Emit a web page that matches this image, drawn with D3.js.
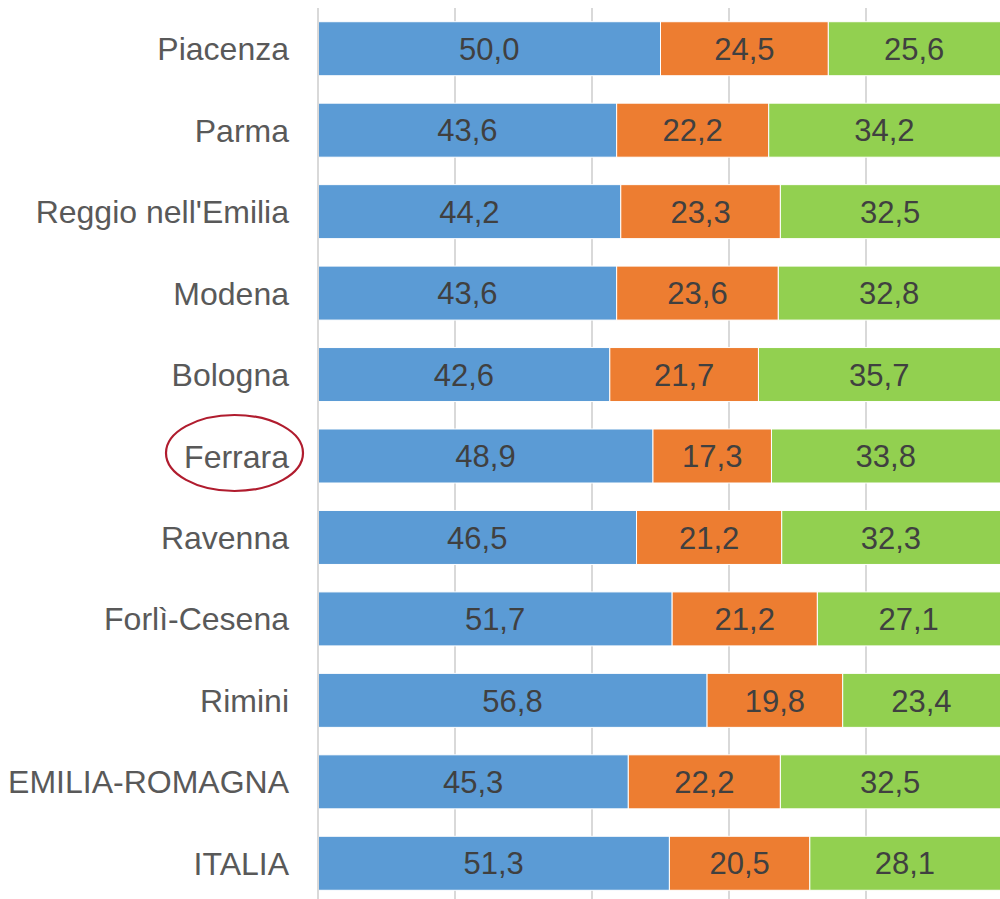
<!DOCTYPE html>
<meta charset="utf-8">
<script src="https://d3js.org/d3.v7.min.js" charset="utf-8"></script>
<style>
  body { margin: 0; background: #fff; }
</style>
<body>
<div id="draw"></div>
<script>

  var categories = ["Piacenza", "Parma", "Reggio nell'Emilia", "Modena", "Bologna", "Ferrara",
    "Ravenna", "Forlì-Cesena", "Rimini", "EMILIA-ROMAGNA", "ITALIA"];
  var serieA = [50.0, 43.6, 44.2, 43.6, 42.6, 48.9, 46.5, 51.7, 56.8, 45.3, 51.3];
  var serieB = [24.5, 22.2, 23.3, 23.6, 21.7, 17.3, 21.2, 21.2, 19.8, 22.2, 20.5];
  var serieC = [25.6, 34.2, 32.5, 32.8, 35.7, 33.8, 32.3, 27.1, 23.4, 32.5, 28.1];
  var gridTicks = [0, 20, 40, 60, 80, 100];
  var highlighted = "Ferrara";

  var width = 1000;
  var height = 899;
  var colors = ["#5b9bd5", "#ed7d31", "#92d050"];

  var svg = d3.select("#draw")
    .append("svg")
    .attr("width", width)
    .attr("height", height);

  var x = d3.scaleLinear().domain([0, 100]).range([318, 1003]);
  var y = d3.scaleBand().domain(categories).range([8, 904])
    .paddingInner(0.337).paddingOuter(0.1685);

  // gridlines
  svg.append("g").selectAll("line")
    .data(gridTicks)
    .enter().append("line")
    .attr("x1", function(d){ return x(d); })
    .attr("x2", function(d){ return x(d); })
    .attr("y1", 8)
    .attr("y2", height)
    .style("stroke", "#d9d9d9")
    .style("stroke-width", 2);

  var rows = categories.map(function(c, i){
    return {cat: c, vals: [serieA[i], serieB[i], serieC[i]]};
  });

  var row = svg.append("g").selectAll("g")
    .data(rows)
    .enter().append("g");

  row.each(function(d){
    var g = d3.select(this);
    var start = 0;
    d.vals.forEach(function(v, k){
      var x0 = x(start), x1 = x(start + v);
      g.append("rect")
        .attr("x", x0)
        .attr("y", y(d.cat))
        .attr("width", x1 - x0)
        .attr("height", y.bandwidth())
        .style("fill", colors[k])
        .style("stroke", "#fff")
        .style("stroke-width", 1);
      var cx = (x0 + Math.min(x1, width)) / 2;
      g.append("text")
        .attr("x", cx)
        .attr("y", y(d.cat) + y.bandwidth() / 2)
        .attr("dy", "0.36em")
        .attr("text-anchor", "middle")
        .style("font-family", "'Liberation Sans', Arial, sans-serif")
        .style("font-size", "31px")
        .style("fill", "#404040")
        .text(d3.format(".1f")(v).replace(".", ","));
      start += v;
    });
  });

  // axis line
  svg.append("line")
    .attr("x1", x(0)).attr("x2", x(0))
    .attr("y1", 8).attr("y2", height)
    .style("stroke", "#d9d9d9")
    .style("stroke-width", 2);

  // category labels
  svg.append("g").selectAll("text")
    .data(categories)
    .enter().append("text")
    .attr("x", 289)
    .attr("y", function(d){ return y(d) + y.bandwidth() / 2; })
    .attr("dy", "0.36em")
    .attr("text-anchor", "end")
    .style("font-family", "'Liberation Sans', Arial, sans-serif")
    .style("font-size", "32px")
    .style("fill", "#595959")
    .text(function(d){ return d; });

  // circle round Ferrara
  svg.append("ellipse")
    .attr("cx", 234.5)
    .attr("cy", y(highlighted) + y.bandwidth() / 2 - 3)
    .attr("rx", 68.5)
    .attr("ry", 38)
    .style("fill", "none")
    .style("stroke", "#b01c2e")
    .style("stroke-width", 2.2);

</script>
</body>
